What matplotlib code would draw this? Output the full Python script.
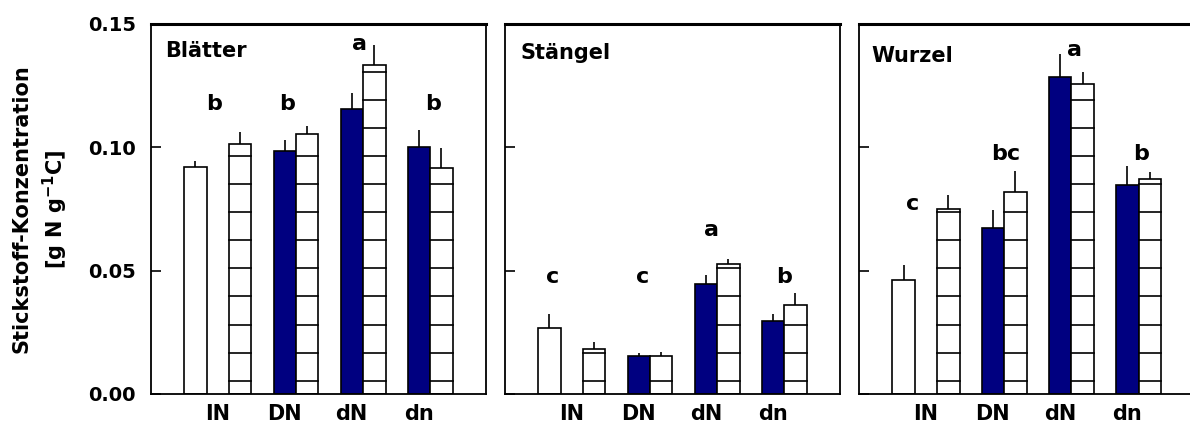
import numpy as np
import matplotlib.pyplot as plt

plt.rcParams['font.family'] = ['DejaVu Sans']
plt.rcParams['font.weight'] = 'bold'

groups = ['IN', 'DN', 'dN', 'dn']
panels = ['Blätter', 'Stängel', 'Wurzel']

# IN control bar (white), then solid (navy) and hatched bars for DN, dN, dn
ctrl_val = [0.0922, 0.0266, 0.0462]
ctrl_err = [0.0023, 0.0058, 0.0059]
solid_val = [[0.0987, 0.1154, 0.1001],
             [0.0154, 0.0446, 0.0296],
             [0.0672, 0.1287, 0.0849]]
solid_err = [[0.0044, 0.0067, 0.0070],
             [0.0013, 0.0036, 0.0027],
             [0.0072, 0.0093, 0.0077]]
hatch_val = [[0.1013, 0.1054, 0.1335, 0.0918],
             [0.0181, 0.0154, 0.0528, 0.0362],
             [0.0749, 0.0819, 0.1258, 0.0871]]
hatch_err = [[0.0049, 0.0034, 0.0078, 0.0081],
             [0.0028, 0.0015, 0.0021, 0.0048],
             [0.0057, 0.0086, 0.0046, 0.0029]]
letters = [['b', 'b', 'a', 'b'],
           ['c', 'c', 'a', 'b'],
           ['c', 'bc', 'a', 'b']]
letter_y = [[0.1177, 0.1177, 0.1420, 0.1177],
            [0.0475, 0.0475, 0.0664, 0.0475],
            [0.0772, 0.0974, 0.1393, 0.0974]]
letter_x = [[0.78, 1.86, 2.94, 4.04],
            [0.55, 1.89, 2.92, 3.99],
            [0.64, 2.02, 3.05, 4.03]]

navy = '#000080'
w = 0.333
pos = np.arange(1, 5)

fig = plt.figure(figsize=(11.9, 4.29), dpi=100)
lefts = [0.1269, 0.4244, 0.7221]
title_x = [0.042, 0.045, 0.037]
title_y = [0.912, 0.905, 0.897]

def hatched_bar(ax, x, h):
    ax.bar(x, h, w, color='white', edgecolor='black', linewidth=1.2, zorder=2)
    yy = 0.0054
    while yy < h - 0.0005:
        ax.plot([x - w / 2, x + w / 2], [yy, yy], color='black', lw=1.2, zorder=3)
        yy += 0.01138

for i, name in enumerate(panels):
    ax = fig.add_axes([lefts[i], 0.0816, 0.2815, 0.8625])
    # control bar
    ax.bar(pos[0] - 1.5 * w, ctrl_val[i], w, color='white', edgecolor='black', linewidth=1.2, zorder=2)
    ax.errorbar(pos[0] - 1.5 * w, ctrl_val[i], yerr=[[0], [ctrl_err[i]]], fmt='none', ecolor='black', elinewidth=1.2, capsize=0, zorder=1)
    # solid bars
    ax.bar(pos[1:] - w / 2, solid_val[i], w, color=navy, edgecolor='black', linewidth=1.2, zorder=2)
    ax.errorbar(pos[1:] - w / 2, solid_val[i], yerr=[np.zeros(3), solid_err[i]], fmt='none', ecolor='black', elinewidth=1.2, capsize=0, zorder=1)
    # hatched bars
    for j in range(4):
        hatched_bar(ax, pos[j] + w / 2, hatch_val[i][j])
    ax.errorbar(pos + w / 2, hatch_val[i], yerr=[np.zeros(4), hatch_err[i]], fmt='none', ecolor='black', elinewidth=1.2, capsize=0, zorder=1)

    for j in range(4):
        ax.text(letter_x[i][j], letter_y[i][j], letters[i][j], ha='center', va='center', fontsize=16, fontweight='bold')
    ax.text(title_x[i], title_y[i], name, transform=ax.transAxes, fontsize=15, fontweight='bold', ha='left', va='baseline')

    ax.set_xlim(-0.16, 4.83)
    ax.set_ylim(0, 0.15)
    ax.set_yticks([0, 0.05, 0.10, 0.15])
    ax.set_xticks(pos - 0.17)
    ax.set_xticklabels(groups, fontsize=15, fontweight='bold')
    ax.tick_params(axis='x', length=0, pad=7)
    ax.tick_params(axis='y', direction='in', length=7, width=1.2, pad=11, labelsize=14)
    if i == 0:
        ax.set_yticklabels(['0.00', '0.05', '0.10', '0.15'], fontweight='bold')
        ax.set_ylabel('Stickstoff-Konzentration\n[g N g$^{\\mathbf{-1}}$C]', fontsize=15, fontweight='bold',
                      labelpad=13, linespacing=1.4)
    else:
        ax.set_yticklabels([])
    for s in ax.spines.values():
        s.set_linewidth(1.3)
    ax.spines['top'].set_linewidth(2.2)

fig.savefig('out.png', dpi=100)
